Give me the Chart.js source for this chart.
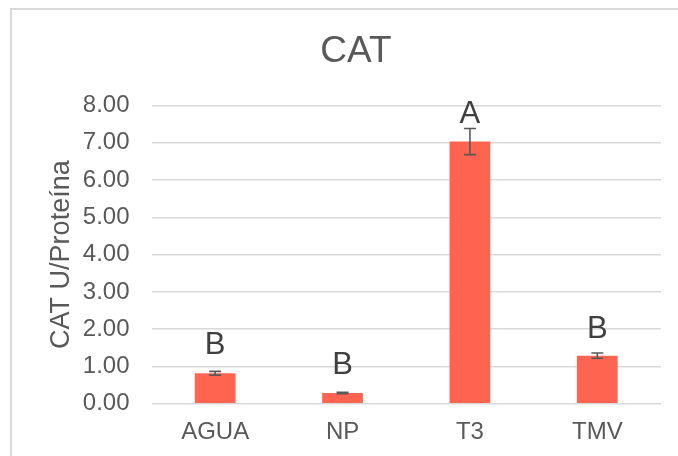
<!DOCTYPE html>
<html>
<head>
<meta charset="utf-8">
<script src="https://cdn.jsdelivr.net/npm/chart.js@4"></script>
<style>
  html, body { margin: 0; padding: 0; background: #fff; overflow: hidden; width: 678px; height: 456px; }
  #frame { position: absolute; left: 10px; top: 8px; width: 720px; height: 520px; border: 2px solid #d9d9d9; box-sizing: border-box; }
  #wrap { position: absolute; left: 0; top: 0; width: 678px; height: 456px; }
</style>
</head>
<body>
<div id="frame"></div>
<div id="wrap"><canvas id="c" width="678" height="456"></canvas></div>
<script>
const categories = ["AGUA", "NP", "T3", "TMV"];
const values = [0.82, 0.29, 7.03, 1.29];
const errors = [0.05, 0.02, 0.35, 0.07];
const letters = ["B", "B", "A", "B"];
const yTicks = [0, 1, 2, 3, 4, 5, 6, 7, 8];

const FONT = "'Liberation Sans', Arial, Helvetica, sans-serif";

const errorBarsPlugin = {
  id: 'errorBarsLetters',
  afterDatasetsDraw(chart, args, opts) {
    const ctx = chart.ctx;
    const meta = chart.getDatasetMeta(0);
    const y = chart.scales.y;
    ctx.save();
    meta.data.forEach((bar, i) => {
      const v = values[i], e = errors[i];
      const yTop = y.getPixelForValue(v + e);
      const yBot = y.getPixelForValue(v - e);
      const x = bar.x;
      const cap = opts.capWidth / 2;
      ctx.strokeStyle = opts.color;
      ctx.lineWidth = opts.lineWidth;
      ctx.beginPath();
      ctx.moveTo(x, yTop); ctx.lineTo(x, yBot);
      ctx.moveTo(x - cap, yTop); ctx.lineTo(x + cap, yTop);
      ctx.moveTo(x - cap, yBot); ctx.lineTo(x + cap, yBot);
      ctx.stroke();
      ctx.fillStyle = opts.letterColor;
      ctx.font = opts.letterFont;
      ctx.textAlign = 'center';
      ctx.textBaseline = 'alphabetic';
      ctx.fillText(letters[i], x, yTop - opts.letterGap[i]);
    });
    ctx.restore();
  }
};

new Chart(document.getElementById('c'), {
  type: 'bar',
  data: {
    labels: categories,
    datasets: [{
      data: values,
      backgroundColor: '#FF6450',
      borderWidth: 0,
      categoryPercentage: 1.0,
      barPercentage: 0.32
    }]
  },
  plugins: [errorBarsPlugin],
  options: {
    responsive: false,
    animation: false,
    layout: { padding: { left: 51, right: 17, top: 0, bottom: 9 } },
    plugins: {
      legend: { display: false },
      tooltip: { enabled: false },
      title: {
        display: true,
        text: 'CAT',
        color: '#595959',
        font: { family: FONT, size: 37, weight: 'normal', lineHeight: 1.2 },
        padding: { top: 30, bottom: 31 }
      },
      errorBarsLetters: {
        color: '#595959',
        lineWidth: 1.6,
        capWidth: 12,
        letterColor: '#404040',
        letterFont: "31px " + FONT,
        letterGap: [17, 18, 6, 15]
      }
    },
    scales: {
      x: {
        grid: { display: false, drawTicks: false },
        border: { display: false },
        afterFit(scale) { scale.height = 43.2; },
        ticks: {
          color: '#595959',
          padding: 14,
          font: { family: FONT, size: 24, lineHeight: 1.2 }
        }
      },
      y: {
        min: 0,
        max: 8,
        afterBuildTicks(scale) { scale.ticks = yTicks.map(v => ({ value: v })); },
        afterFit(scale) { scale.width = 100.5; },
        grid: { color: '#d9d9d9', lineWidth: 1.5, drawTicks: false },
        border: { display: false },
        ticks: {
          color: '#595959',
          padding: 22,
          font: { family: FONT, size: 24, lineHeight: 1.2 },
          callback: (v) => Number(v).toFixed(2)
        },
        title: {
          display: true,
          text: 'CAT U/Proteína',
          color: '#595959',
          font: { family: FONT, size: 27, lineHeight: 0.77 },
          padding: { top: 0, bottom: 11 }
        }
      }
    }
  }
});
</script>
</body>
</html>
